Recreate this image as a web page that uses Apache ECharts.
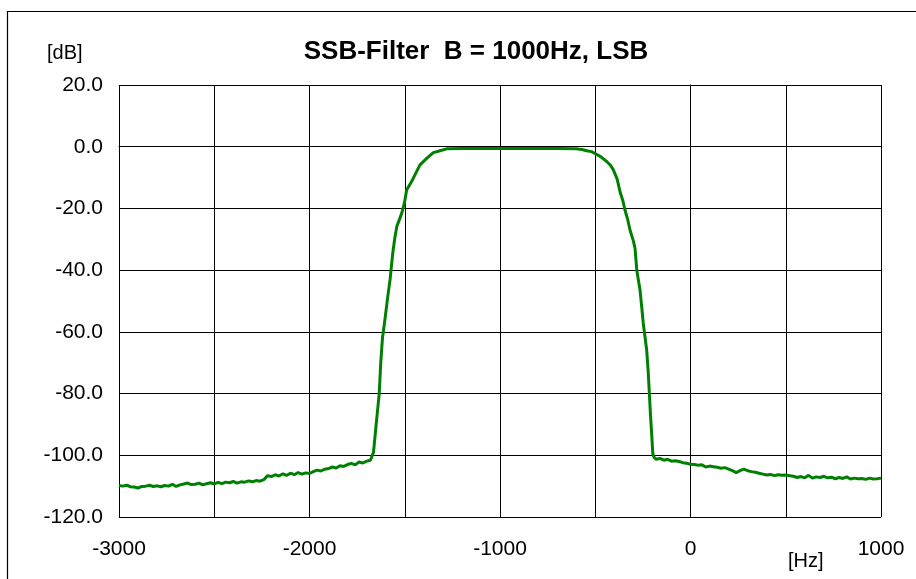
<!DOCTYPE html>
<html>
<head>
<meta charset="utf-8">
<script src="https://cdn.jsdelivr.net/npm/echarts@6/dist/echarts.min.js"></script>
<style>
  html, body { margin: 0; padding: 0; background: #fff; }
  #chart { width: 916px; height: 579px; }
</style>
</head>
<body>
<div id="chart"></div>
<script>
// Measured response of the SSB filter, [Hz, dB] pairs, grouped by region.
const floorLow = [
  [-3000,-109.8],[-2980,-110.0],[-2960,-109.7],[-2940,-110.2],[-2920,-110.3],[-2900,-110.6],
  [-2880,-110.1],[-2860,-110.0],[-2840,-109.7],[-2820,-110.1],[-2800,-109.9],[-2780,-110.2],
  [-2760,-109.8],[-2740,-110.0],[-2720,-109.4],[-2700,-110.1],[-2680,-109.6],[-2660,-109.3],
  [-2640,-109.0],[-2620,-109.5],[-2600,-109.4],[-2580,-109.0],[-2560,-109.6],[-2540,-109.2],
  [-2520,-108.9],[-2500,-109.3],[-2480,-108.8],[-2460,-109.2],[-2440,-108.7],[-2420,-108.9],
  [-2400,-108.5],[-2380,-109.0],[-2360,-108.6],[-2340,-108.7],[-2320,-108.3],[-2300,-108.6],
  [-2280,-108.2],[-2260,-108.4],[-2240,-107.9],[-2220,-106.6],[-2200,-106.9],[-2180,-106.3],
  [-2160,-106.7],[-2140,-106.0],[-2120,-106.5],[-2100,-105.8],[-2080,-106.3],[-2060,-105.6],
  [-2040,-106.1],[-2020,-105.7],[-2000,-105.9],[-1980,-105.3],[-1960,-104.8],[-1940,-105.1],
  [-1920,-104.5],[-1900,-104.3],[-1880,-103.8],[-1860,-104.1],[-1840,-103.4],[-1820,-103.6],
  [-1800,-103.0],[-1780,-102.6],[-1760,-103.1],[-1740,-102.2],[-1720,-102.5],[-1700,-101.9],
  [-1680,-101.6],[-1670,-101.3]
];
const riseEdge = [
  [-1664,-99.0],[-1650,-90.0],[-1634,-80.0],[-1626,-70.0],[-1617,-62.0],[-1604,-56.0],
  [-1590,-49.0],[-1577,-43.0],[-1563,-34.5],[-1552,-29.5],[-1542,-25.9],[-1516,-21.6],
  [-1502,-18.3],[-1490,-14.0],[-1464,-11.3],[-1440,-8.3],[-1420,-5.9],[-1385,-3.8],
  [-1350,-1.9],[-1315,-1.3],[-1280,-0.7]
];
const passTop = [
  [-1200,-0.6],[-1100,-0.6],[-1000,-0.6],[-900,-0.6],[-800,-0.6],[-700,-0.6],[-600,-0.65]
];
const fallEdge = [
  [-570,-0.9],[-545,-1.3],[-520,-1.6],[-501,-2.2],[-470,-3.3],[-440,-4.8],[-420,-6.0],
  [-405,-7.5],[-385,-10.5],[-370,-14.6],[-355,-17.5],[-344,-20.5],[-330,-23.5],[-318,-26.9],
  [-300,-30.5],[-291,-33.0],[-282,-40.0],[-265,-46.4],[-256,-52.0],[-248,-57.2],[-240,-61.0],
  [-230,-65.9],[-222,-73.0],[-216,-79.9],[-210,-87.0],[-204,-92.9],[-198,-99.4],[-192,-100.6],
  [-186,-101.1]
];
const floorHigh = [
  [-180,-101.3],[-160,-101.0],[-140,-101.6],[-120,-101.3],[-100,-101.9],[-80,-101.8],
  [-60,-102.0],[-40,-102.4],[-20,-102.6],[0,-102.9],[20,-103.0],[40,-103.2],[60,-103.1],
  [80,-103.8],[100,-103.5],[120,-103.7],[140,-103.9],[160,-104.2],[180,-104.0],[200,-104.5],
  [220,-105.0],[240,-105.6],[260,-105.0],[280,-104.5],[300,-105.0],[320,-105.3],[340,-105.5],
  [360,-105.8],[380,-106.1],[400,-106.4],[420,-106.2],[440,-106.6],[460,-106.3],[480,-106.5],
  [500,-106.4],[520,-106.6],[540,-106.8],[560,-107.2],[580,-106.9],[600,-107.3],[620,-106.5],
  [640,-107.4],[660,-107.0],[680,-107.2],[700,-106.8],[720,-107.3],[740,-107.1],[760,-107.6],
  [780,-107.2],[800,-107.5],[820,-107.0],[840,-107.7],[860,-107.4],[880,-107.6],[900,-107.5],
  [920,-107.8],[940,-107.4],[960,-107.7],[980,-107.6],[1000,-107.4]
];

const chartTitle = 'SSB-Filter  B = 1000Hz, LSB';
const yUnit = '[dB]';
const xUnit = '[Hz]';

const response = [].concat(floorLow, riseEdge, passTop, fallEdge, floorHigh);

const font = 'Liberation Sans, Arial, sans-serif';
const chart = echarts.init(document.getElementById('chart'), null, { renderer: 'canvas' });

chart.setOption({
  animation: false,
  backgroundColor: '#fff',
  title: {
    text: chartTitle,
    left: 471,
    top: 34,
    textAlign: 'center',
    textStyle: { fontFamily: font, fontSize: 26, fontWeight: 'bold', color: '#000' }
  },
  graphic: [
    { type: 'rect', shape: { x: 7.5, y: 11.5, width: 1000, height: 1000 },
      style: { fill: 'none', stroke: '#000', lineWidth: 1.2 }, z: 0 },
    { type: 'text', left: 47, top: 43,
      style: { text: yUnit, fontFamily: font, fontSize: 20, fill: '#000' } },
    { type: 'text', left: 788, top: 551,
      style: { text: xUnit, fontFamily: font, fontSize: 20, fill: '#000' } }
  ],
  grid: { left: 119, right: 35, top: 85, bottom: 62, containLabel: false },
  xAxis: {
    type: 'value',
    min: -3000, max: 1000, interval: 1000,
    axisLine: { show: true, lineStyle: { color: '#000', width: 1 } },
    axisTick: { show: true, inside: false, length: 5, lineStyle: { color: '#000' } },
    axisLabel: { margin: 22, fontFamily: font, fontSize: 21, color: '#000',
      formatter: v => String(v) },
    splitLine: { show: true, lineStyle: { color: '#000', width: 1 } },
    minorTick: { show: false, splitNumber: 2 },
    minorSplitLine: { show: true, lineStyle: { color: '#000', width: 1 } }
  },
  yAxis: {
    type: 'value',
    min: -120, max: 20, interval: 20,
    axisLine: { show: true, lineStyle: { color: '#000', width: 1 } },
    axisTick: { show: true, inside: false, length: 5, lineStyle: { color: '#000' } },
    axisLabel: { margin: 16, fontFamily: font, fontSize: 21, color: '#000',
      formatter: v => v.toFixed(1) },
    splitLine: { show: true, lineStyle: { color: '#000', width: 1 } }
  },
  series: [{
    type: 'line',
    data: response,
    showSymbol: false,
    smooth: false,
    lineStyle: { color: '#008000', width: 3 },
    itemStyle: { color: '#008000' },
    z: 3
  }]
});
</script>
</body>
</html>
